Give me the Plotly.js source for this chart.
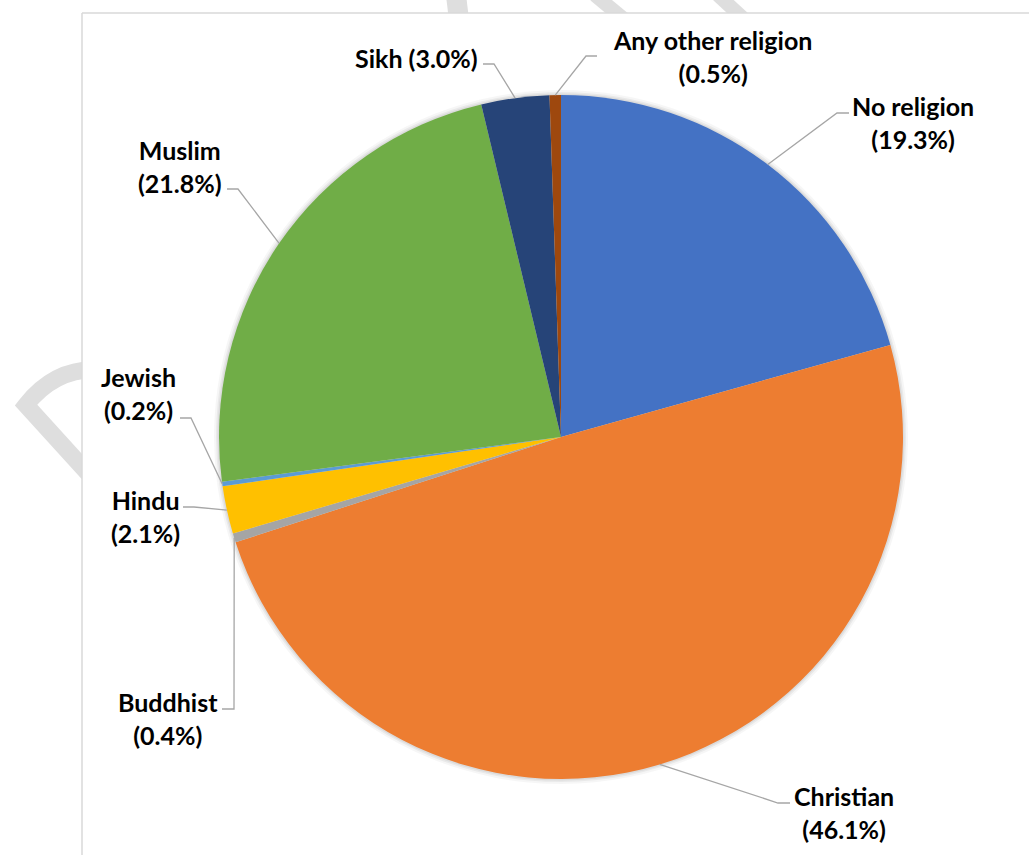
<!DOCTYPE html>
<html>
<head>
<meta charset="utf-8">
<script src="https://cdn.plot.ly/plotly-3.0.1.min.js"></script>
<style>html,body{margin:0;padding:0;background:#fff;}#chart{width:1029px;height:855px;}</style>
</head>
<body>
<div id="chart"></div>
<script>
// ---- data ----
const religions = ["No religion", "Christian", "Buddhist", "Hindu", "Jewish", "Muslim", "Sikh", "Any other religion"];
const shares = [19.3, 46.1, 0.4, 2.1, 0.2, 21.8, 3.0, 0.5];
const sliceColors = ["#4472C4", "#ED7D31", "#A5A5A5", "#FFC000", "#5B9BD5", "#70AD47", "#264478", "#9E480E"];

// ---- layout config (pixels) ----
const W = 1029, H = 855;
const CX = 561, CY = 437, R = 342;
const labelLayout = {
  "No religion":        {x: 913, y: 122, elbow: [837, 113], end: [849, 113]},
  "Christian":          {x: 844, y: 812, elbow: [778, 803], end: [790, 803]},
  "Buddhist":           {x: 168, y: 718, elbow: [234, 709], end: [222, 709]},
  "Hindu":              {x: 145, y: 516, elbow: [194, 507], end: [183, 507]},
  "Jewish":             {x: 138, y: 393, elbow: [191, 418], end: [180, 418]},
  "Muslim":             {x: 180, y: 166, elbow: [238, 189], end: [227, 189]},
  "Sikh":               {x: 416, y: 58,  elbow: [494, 64],  end: [483, 64], oneLine: true},
  "Any other religion": {x: 712, y: 57,  elbow: [586, 56],  end: [597, 56]}
};

const px = v => v / W;
const py = v => 1 - v / H;

function domainFor(r) {
  return {x: [(CX - r) / W, (CX + r) / W], y: [1 - (CY + r) / H, 1 - (CY - r) / H]};
}

const total = shares.reduce((a, b) => a + b, 0);

const traces = [];
// soft shadow discs (same data, grey)
[[5, 0.035], [3, 0.05], [1.5, 0.06]].forEach(([d, a]) => {
  traces.push({
    type: 'pie', values: shares, labels: religions, sort: false, direction: 'clockwise', rotation: 0,
    marker: {colors: shares.map(() => 'rgba(0,0,0,' + a + ')'), line: {width: 0}},
    textinfo: 'none', hoverinfo: 'skip', showlegend: false, domain: domainFor(R + d)
  });
});
traces.push({
  type: 'pie', values: shares, labels: religions, sort: false, direction: 'clockwise', rotation: 0,
  marker: {colors: sliceColors, line: {width: 0}},
  textinfo: 'none', showlegend: false, domain: domainFor(R)
});

const annotations = [];
const shapes = [];

// watermark fragments outside the chart area
const wm = '#dedede';
shapes.push({type: 'line', xref: 'paper', yref: 'paper', layer: 'below', x0: px(456), y0: py(-5), x1: px(459), y1: py(20), line: {color: wm, width: 20}});
shapes.push({type: 'line', xref: 'paper', yref: 'paper', layer: 'below', x0: px(595), y0: py(-5), x1: px(625), y1: py(20), line: {color: wm, width: 14}});
shapes.push({type: 'line', xref: 'paper', yref: 'paper', layer: 'below', x0: px(718), y0: py(-5), x1: px(745), y1: py(20), line: {color: wm, width: 14}});
shapes.push({type: 'path', xref: 'paper', yref: 'paper', layer: 'below',
  path: 'M ' + px(100) + ' ' + py(370) + ' C ' + px(70) + ' ' + py(368) + ', ' + px(45) + ' ' + py(381) + ', ' + px(26) + ' ' + py(405) + ' L ' + px(95) + ' ' + py(481),
  line: {color: wm, width: 17}});
// white chart area
shapes.push({type: 'rect', xref: 'paper', yref: 'paper', layer: 'below', x0: px(82), y0: py(13), x1: px(W + 20), y1: py(H + 20), fillcolor: '#ffffff', line: {width: 0}});
// chart area border
shapes.push({type: 'line', xref: 'paper', yref: 'paper', layer: 'below', x0: px(82), y0: py(13), x1: px(82), y1: py(H + 5), line: {color: '#d9d9d9', width: 1.5}});
shapes.push({type: 'line', xref: 'paper', yref: 'paper', layer: 'below', x0: px(82), y0: py(13), x1: px(W + 5), y1: py(13), line: {color: '#d9d9d9', width: 1.5}});

let cum = 0;
religions.forEach((name, i) => {
  const v = shares[i];
  const frac = (cum + v / 2) / total;
  cum += v;
  const th = 2 * Math.PI * frac;
  const ex = CX + R * Math.sin(th), ey = CY - R * Math.cos(th);
  const cfg = labelLayout[name];
  const pct = '(' + v.toFixed(1) + '%)';
  annotations.push({
    xref: 'paper', yref: 'paper', x: px(cfg.x), y: py(cfg.y), xanchor: 'center', yanchor: 'middle',
    showarrow: false, align: 'center',
    text: '<b>' + name + (cfg.oneLine ? ' ' : '<br>') + pct + '</b>',
    font: {family: 'Lato, "Noto Sans", sans-serif', size: 25, color: '#000000'}
  });
  shapes.push({
    type: 'path', xref: 'paper', yref: 'paper', layer: 'above',
    path: 'M ' + px(ex) + ' ' + py(ey) + ' L ' + px(cfg.elbow[0]) + ' ' + py(cfg.elbow[1]) + ' L ' + px(cfg.end[0]) + ' ' + py(cfg.end[1]),
    line: {color: '#a6a6a6', width: 1.3}
  });
});

const layout = {
  width: W, height: H,
  margin: {l: 0, r: 0, t: 0, b: 0, pad: 0},
  paper_bgcolor: '#ffffff', plot_bgcolor: '#ffffff',
  showlegend: false,
  annotations: annotations,
  shapes: shapes
};

Plotly.newPlot('chart', traces, layout, {displayModeBar: false, staticPlot: true});
</script>
</body>
</html>
